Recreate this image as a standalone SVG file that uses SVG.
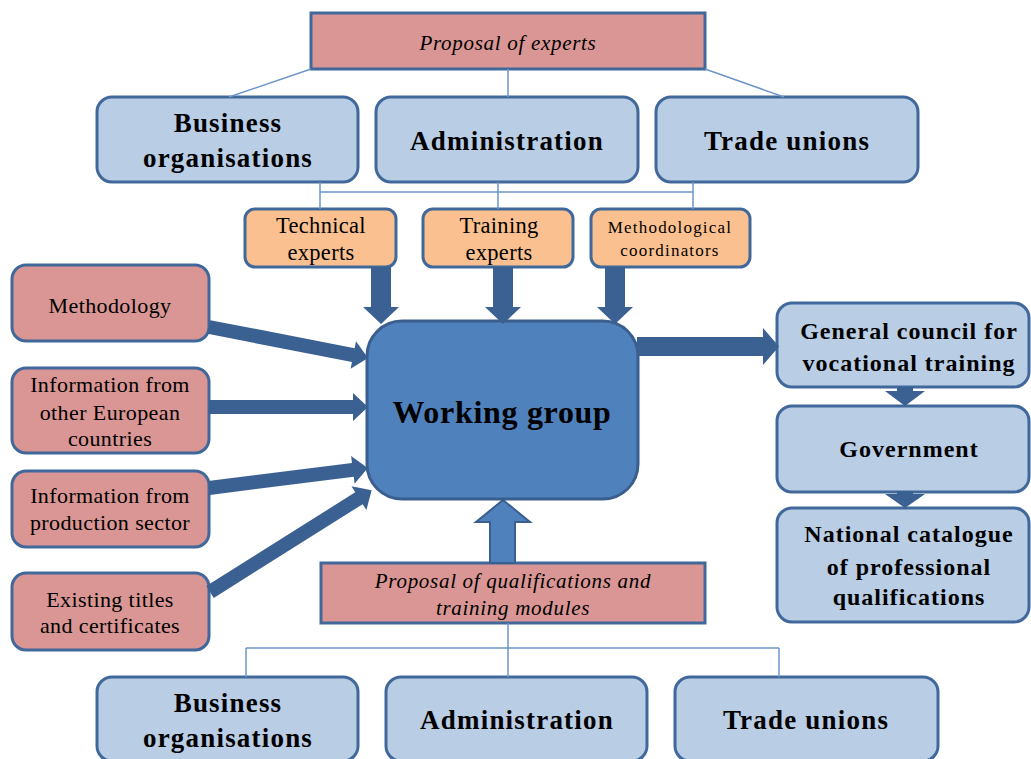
<svg xmlns="http://www.w3.org/2000/svg" width="1031" height="759" viewBox="0 0 1031 759">
<style>
.blue{fill:#B9CDE5;stroke:#41689A;stroke-width:3}
.pink{fill:#D99694;stroke:#41689A;stroke-width:3}
.orange{fill:#FAC08F;stroke:#41689A;stroke-width:3}
.wg{fill:#4F81BD;stroke:#3A5F8E;stroke-width:3}
.line{stroke:#6E96CB;stroke-width:1.5;fill:none}
.arr{fill:#3A6191}
.up{fill:#4F81BD;stroke:#3A5F8E;stroke-width:2}
text{font-family:"Liberation Serif","Times New Roman",serif;fill:#000;text-anchor:middle}
.big{font-size:27px;font-weight:bold;letter-spacing:1.2px}
.rt{font-size:24px;font-weight:bold;letter-spacing:1px}
.lt{font-size:22px;letter-spacing:0.4px}
.sm{font-size:22.5px;letter-spacing:0.3px}
.xs{font-size:17px;letter-spacing:1.2px}
.it{font-size:21px;font-style:italic;letter-spacing:0.7px}
.wgt{font-size:32px;font-weight:bold;letter-spacing:0.7px}
</style>
<g id="proposal-experts"><rect class="pink" x="311" y="13" width="394" height="56"/><text class="it" x="508" y="50">Proposal of experts</text></g>
<g id="business-top"><rect class="blue" x="97" y="97" width="261" height="85" rx="15"/><text class="big" x="228" y="132">Business</text><text class="big" x="228" y="167">organisations</text></g>
<g id="administration-top"><rect class="blue" x="376" y="97" width="262" height="85" rx="15"/><text class="big" x="507" y="150">Administration</text></g>
<g id="trade-top"><rect class="blue" x="656" y="97" width="262" height="85" rx="15"/><text class="big" x="787" y="150">Trade unions</text></g>
<g id="technical-experts"><rect class="orange" x="245" y="209" width="151" height="58" rx="10"/><text class="sm" x="321" y="233">Technical</text><text class="sm" x="321" y="260">experts</text></g>
<g id="training-experts"><rect class="orange" x="423" y="209" width="150" height="58" rx="10"/><text class="sm" x="499" y="233">Training</text><text class="sm" x="499" y="260">experts</text></g>
<g id="methodological-coordinators"><rect class="orange" x="591" y="209" width="159" height="58" rx="10"/><text class="xs" x="670" y="233">Methodological</text><text class="xs" x="670" y="256">coordinators</text></g>
<g id="methodology"><rect class="pink" x="12" y="265" width="197" height="76" rx="14"/><text class="lt" x="110" y="313">Methodology</text></g>
<g id="info-europe"><rect class="pink" x="12" y="368" width="197" height="85" rx="14"/><text class="lt" x="110" y="392">Information from</text><text class="lt" x="110" y="420">other European</text><text class="lt" x="110" y="446">countries</text></g>
<g id="info-production"><rect class="pink" x="12" y="471" width="197" height="76" rx="14"/><text class="lt" x="110" y="503">Information from</text><text class="lt" x="110" y="530">production sector</text></g>
<g id="existing-titles"><rect class="pink" x="12" y="573" width="197" height="77" rx="14"/><text class="lt" x="110" y="607">Existing titles</text><text class="lt" x="110" y="633">and certificates</text></g>
<g id="working-group"><rect class="wg" x="367" y="321" width="271" height="178" rx="35"/><text class="wgt" x="502" y="423">Working group</text></g>
<g id="general-council"><rect class="blue" x="777" y="303" width="252" height="84" rx="15"/><text class="rt" x="909" y="339">General council for</text><text class="rt" x="909" y="371">vocational training</text></g>
<g id="government"><rect class="blue" x="777" y="406" width="252" height="86" rx="15"/><text class="rt" x="909" y="457">Government</text></g>
<g id="national-catalogue"><rect class="blue" x="777" y="508" width="252" height="114" rx="15"/><text class="rt" x="909" y="542">National catalogue</text><text class="rt" x="909" y="575">of professional</text><text class="rt" x="909" y="605">qualifications</text></g>
<g id="proposal-qualifications"><rect class="pink" x="321" y="563" width="384" height="60"/><text class="it" x="513" y="588">Proposal of qualifications and</text><text class="it" x="513" y="615">training modules</text></g>
<g id="business-bottom"><rect class="blue" x="97" y="677" width="261" height="84" rx="15"/><text class="big" x="228" y="712">Business</text><text class="big" x="228" y="747">organisations</text></g>
<g id="administration-bottom"><rect class="blue" x="386" y="677" width="261" height="84" rx="15"/><text class="big" x="517" y="729">Administration</text></g>
<g id="trade-bottom"><rect class="blue" x="675" y="677" width="263" height="84" rx="15"/><text class="big" x="806" y="729">Trade unions</text></g>
<g id="connectors">
<path class="line" d="M311 69 L229 97 M508 69 L508 97 M705 69 L784 97"/>
<path class="line" d="M320 182 V209 M498 182 V209 M693 182 V209 M320 192 H693"/>
<path class="line" d="M508 623 V677 M246 648 H779 M246 648 V677 M779 648 V677"/>
<polygon class="arr" points="371,267 391,267 391,307 399,307 381,324 363,307 371,307"/>
<polygon class="arr" points="493,267 513,267 513,307 521,307 503,324 485,307 493,307"/>
<polygon class="arr" points="605,267 625,267 625,307 633,307 615,324 597,307 605,307"/>
<polygon class="arr" transform="translate(209,327) rotate(11)" points="0,-7 147,-7 147,-14 162,0 147,14 147,7 0,7"/>
<polygon class="arr" transform="translate(209,407)" points="0,-7 144,-7 144,-14 159,0 144,14 144,7 0,7"/>
<polygon class="arr" transform="translate(209,488) rotate(-7.2)" points="0,-7 145,-7 145,-14 160,0 145,14 145,7 0,7"/>
<polygon class="arr" transform="translate(210,592) rotate(-32.2)" points="0,-7 176,-7 176,-14 191,0 176,14 176,7 0,7"/>
<polygon class="arr" points="637,337 763,337 763,328 779,346.5 763,365 763,356 637,356"/>
<polygon class="arr" points="897,387 913,387 913,391 925,391 905,406 885,391 897,391"/>
<polygon class="arr" points="897,491 913,491 913,494 925,494 905,508 885,494 897,494"/>
<polygon class="up" points="490,563 490,522 476,522 503,500 530,522 515,522 515,563"/>
</g>
</svg>
